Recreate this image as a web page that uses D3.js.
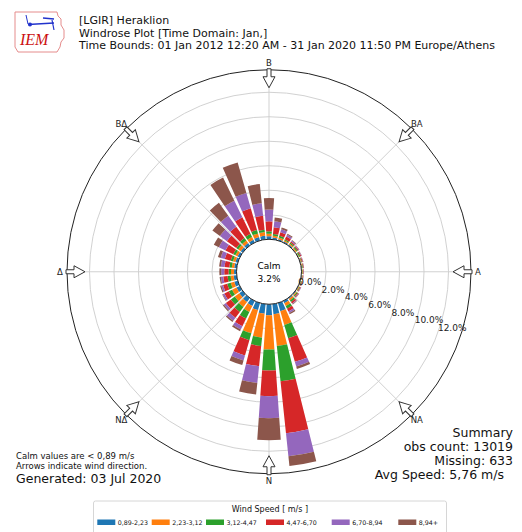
<!DOCTYPE html>
<html><head><meta charset="utf-8">
<script src="https://cdn.jsdelivr.net/npm/d3@7"></script>
<style>body{margin:0;background:#fff;} svg{display:block;font-family:"DejaVu Sans",sans-serif;}</style>
</head><body><svg id="c" width="522" height="532"></svg>
<script>
// ---- data ----
const directions = [0,10,20,30,40,50,60,70,80,90,100,110,120,130,140,150,160,170,180,190,200,210,220,230,240,250,260,270,280,290,300,310,320,330,340,350];
const speedBins = ["0,89-2,23","2,23-3,12","3,12-4,47","4,47-6,70","6,70-8,94","8,94+"];
const binColors = ["#1f77b4","#ff7f0e","#2ca02c","#d62728","#9467bd","#8c564b"];
const bin1 = [0.25,0.15,0.10,0.10,0.10,0.05,0.05,0.05,0.05,0.05,0.05,0.05,0.06,0.08,0.10,0.20,0.70,0.83,0.90,0.80,0.60,0.45,0.40,0.35,0.30,0.30,0.25,0.20,0.20,0.20,0.20,0.20,0.25,0.25,0.30,0.30];
const bin2 = [0.20,0.15,0.15,0.10,0.10,0.10,0.05,0.05,0.05,0.05,0.05,0.05,0.06,0.08,0.15,0.25,1.16,2.62,2.80,1.96,1.98,0.55,0.50,0.45,0.40,0.30,0.25,0.25,0.20,0.20,0.20,0.25,0.25,0.25,0.30,0.30];
const bin3 = [0.20,0.15,0.15,0.10,0.10,0.10,0.10,0.05,0.05,0.03,0.03,0.05,0.06,0.09,0.15,0.25,1.14,2.89,1.70,0.69,0.58,0.60,0.50,0.40,0.30,0.30,0.25,0.20,0.20,0.20,0.20,0.20,0.25,0.30,0.30,0.20];
const bin4 = [0.81,0.55,0.30,0.25,0.10,0.10,0.08,0.07,0.05,0.04,0.04,0.05,0.06,0.08,0.15,0.25,2.00,4.26,2.10,1.65,1.30,0.70,0.60,0.50,0.40,0.35,0.35,0.35,0.40,0.50,0.70,0.95,1.15,1.50,1.84,1.15];
const bin5 = [0.96,0.50,0.25,0.15,0.10,0.05,0.04,0.03,0.02,0.02,0.02,0.02,0.03,0.04,0.05,0.15,0.40,1.90,1.80,1.37,0.42,0.30,0.30,0.20,0.15,0.15,0.20,0.25,0.30,0.35,0.60,0.70,1.10,1.50,1.30,1.02];
const bin6 = [0.95,0.30,0.15,0.10,0.05,0.02,0.02,0.02,0.01,0.01,0.01,0.01,0.01,0.03,0.05,0.10,0.20,0.80,1.80,0.96,0.39,0.14,0.12,0.10,0.05,0.10,0.10,0.15,0.14,0.23,0.46,0.76,1.30,2.10,2.59,1.57];
const ringTicks = [0,2,4,6,8,10,12];
const compassLabels = ["B","BA","A","NA","N","NΔ","Δ","BΔ"];
const compassAngles = [0,45,90,135,180,225,270,315];
const calmPct = "3.2%";

// ---- layout ----
const svg = d3.select("#c");
const cx = 269, cy = 271.75, R = 202;
const r = d3.scaleLinear().domain([0,12]).range([32.5,179.5]);
const rad = d => d*Math.PI/180;
const g = svg.append("g").attr("transform",`translate(${cx},${cy})`);

// grid
g.selectAll("circle.grid").data(ringTicks.slice(1)).join("circle")
  .attr("r",d=>r(d)).attr("fill","none").attr("stroke","#cccccc").attr("stroke-width",0.9);
g.selectAll("line.spoke").data(compassAngles).join("line")
  .attr("x1",d=>r(0)*Math.sin(rad(d))).attr("y1",d=>-r(0)*Math.cos(rad(d)))
  .attr("x2",d=>R*Math.sin(rad(d))).attr("y2",d=>-R*Math.cos(rad(d)))
  .attr("stroke","#cccccc").attr("stroke-width",0.9);

// bars
const rows = directions.map((d,i)=>({dir:d, b0:bin1[i], b1:bin2[i], b2:bin3[i], b3:bin4[i], b4:bin5[i], b5:bin6[i]}));
const keys = ["b0","b1","b2","b3","b4","b5"];
const stack = d3.stack().keys(keys)(rows);
const arc = d3.arc();
const half = 4;
stack.forEach((layer,k)=>{
  g.append("g").selectAll("path").data(layer).join("path")
    .attr("d",d=>arc({innerRadius:r(d[0]),outerRadius:r(d[1]),
        startAngle:rad(d.data.dir-half),endAngle:rad(d.data.dir+half)}))
    .attr("fill",binColors[k]);
});

// calm circle
g.append("circle").attr("r",r(0)).attr("fill","#fff").attr("stroke","#222").attr("stroke-width",1);
g.append("text").attr("y",-6).attr("text-anchor","middle").attr("dominant-baseline","central").attr("font-size",9).text("Calm");
g.append("text").attr("y",7).attr("text-anchor","middle").attr("dominant-baseline","central").attr("font-size",9).text(calmPct);

// outer circle
g.append("circle").attr("r",R).attr("fill","none").attr("stroke","#222").attr("stroke-width",1);

// ring labels
const la = rad(108.3);
g.selectAll("text.rl").data(ringTicks).join("text")
  .attr("x",d=>r(d)*Math.sin(la)-1.5).attr("y",d=>-r(d)*Math.cos(la))
  .attr("dominant-baseline","central").attr("font-size",9).attr("fill","#222")
  .text(d=>d.toFixed(1)+"%");

// arrows
const arrowPts = [[-2,-203],[2,-203],[2,-195],[6,-195],[0,-184],[-6,-195],[-2,-195]];
g.selectAll("polygon.arr").data(compassAngles).join("polygon")
  .attr("points",arrowPts.map(p=>p.join(",")).join(" "))
  .attr("transform",d=>`rotate(${d})`)
  .attr("fill","#fff").attr("stroke","#333").attr("stroke-width",1);
g.selectAll("text.cl").data(compassAngles).join("text")
  .attr("x",d=>209*Math.sin(rad(d))).attr("y",d=>-209*Math.cos(rad(d)))
  .attr("text-anchor","middle").attr("dominant-baseline","central").attr("font-size",8.5).attr("fill","#222")
  .text((d,i)=>compassLabels[i]);

// header
const hdr = ["[LGIR] Heraklion","Windrose Plot [Time Domain: Jan,]","Time Bounds: 01 Jan 2012 12:20 AM - 31 Jan 2020 11:50 PM Europe/Athens"];
svg.selectAll("text.h").data(hdr).join("text").attr("x",79).attr("y",(d,i)=>24+i*12.5)
  .attr("font-size",11).attr("fill","#111").text(d=>d);

// logo
const logo = svg.append("g");
logo.append("path").attr("d","M15,12 L57,12 L58,16 L61,19 L61,25 L64,30 L64,38 L61,42 L60,47 L57,52 L18,52 L15,47 Z")
  .attr("fill","none").attr("stroke","#e58c8c").attr("stroke-width",1);
logo.append("text").attr("x",20).attr("y",45).attr("font-family","Liberation Serif").attr("font-style","italic")
  .attr("font-size",16).attr("fill","#cc1111").text("IEM");
logo.append("line").attr("x1",28).attr("y1",24.5).attr("x2",54).attr("y2",23).attr("stroke","#2233cc").attr("stroke-width",1.6);
logo.append("line").attr("x1",43).attr("y1",18).attr("x2",54).attr("y2",19).attr("stroke","#2233cc").attr("stroke-width",1.4);
logo.append("line").attr("x1",52).attr("y1",20).attr("x2",54).attr("y2",30).attr("stroke","#2233cc").attr("stroke-width",1.2);
logo.append("line").attr("x1",26).attr("y1",15).attr("x2",28).attr("y2",24).attr("stroke","#2233cc").attr("stroke-width",1);
logo.append("circle").attr("cx",30).attr("cy",24.5).attr("r",2).attr("fill","#2233cc");

// footer texts
svg.append("text").attr("x",16).attr("y",458.5).attr("font-size",8.5).attr("fill","#111").text("Calm values are < 0,89 m/s");
svg.append("text").attr("x",16).attr("y",468.5).attr("font-size",8.5).attr("fill","#111").text("Arrows indicate wind direction.");
svg.append("text").attr("x",16).attr("y",483).attr("font-size",12.5).attr("fill","#111").text("Generated: 03 Jul 2020");
const summ = ["Summary","obs count: 13019","Missing: 633","Avg Speed: 5,76 m/s"];
svg.selectAll("text.s").data(summ).join("text").attr("x",(d,i)=>i===3?504:513).attr("y",(d,i)=>436.5+i*14.3)
  .attr("text-anchor","end").attr("font-size",12.5).attr("fill","#111").text(d=>d);

// legend
const lg = svg.append("g");
lg.append("rect").attr("x",93.5).attr("y",501).attr("width",353).attr("height",40).attr("rx",2)
  .attr("fill","#fff").attr("stroke","#cccccc").attr("stroke-width",0.8);
lg.append("text").attr("x",270).attr("y",509.5).attr("text-anchor","middle").attr("dominant-baseline","central")
  .attr("font-size",8).attr("fill","#111").text("Wind Speed [ m/s ]");
const swX = [97.3,151.7,206,266,331.7,398.3];
lg.selectAll("rect.sw").data(speedBins).join("rect")
  .attr("x",(d,i)=>swX[i]).attr("y",519.5).attr("width",18).attr("height",5.5).attr("fill",(d,i)=>binColors[i]);
lg.selectAll("text.lb").data(speedBins).join("text")
  .attr("x",(d,i)=>swX[i]+20.5).attr("y",522.3).attr("dominant-baseline","central")
  .attr("font-size",6.3).attr("fill","#111").text(d=>d);
</script></body></html>
